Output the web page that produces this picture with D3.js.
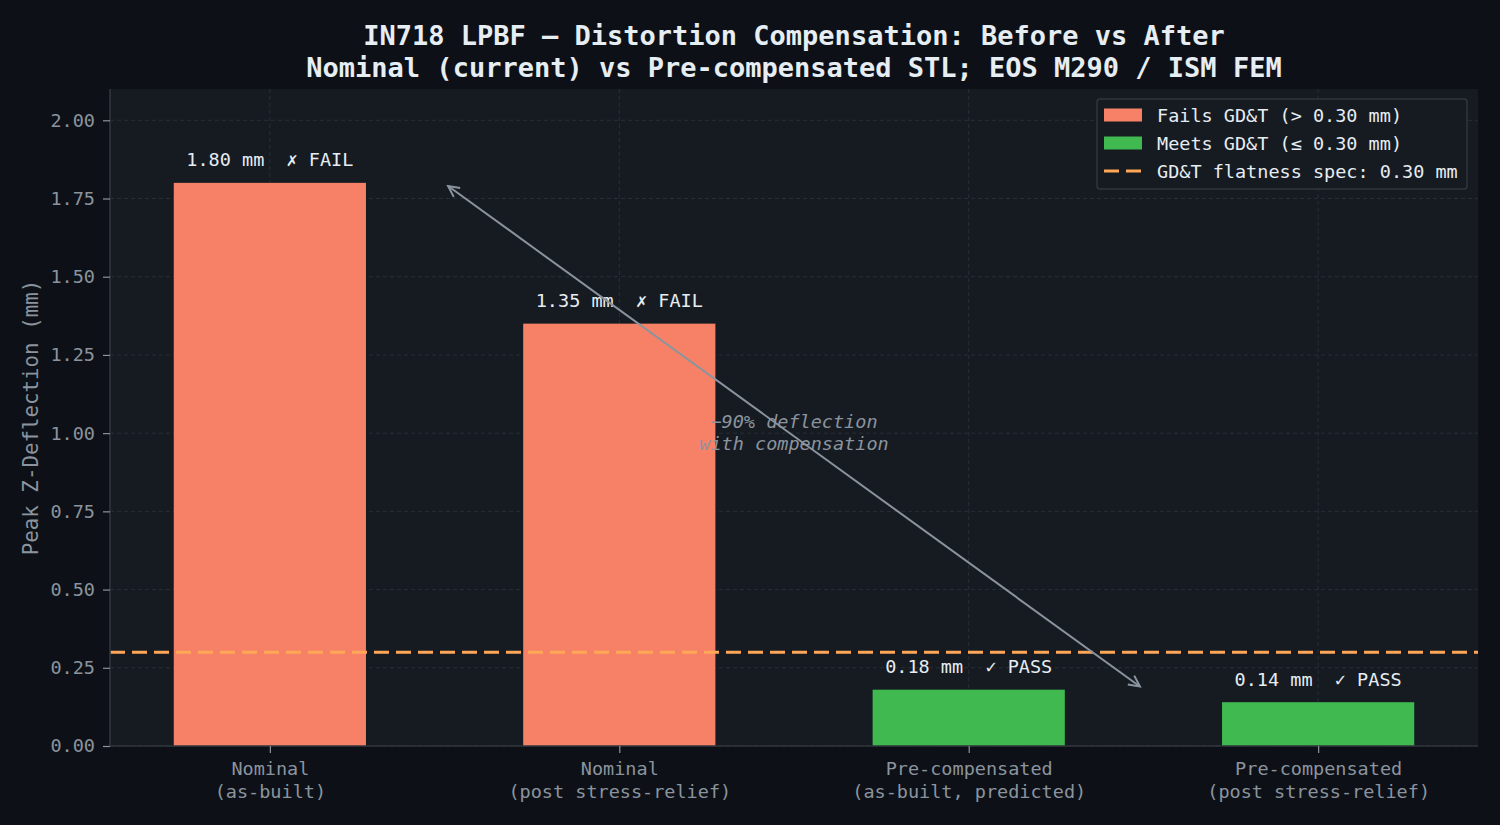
<!DOCTYPE html>
<html>
<head>
<meta charset="utf-8">
<script src="https://cdn.jsdelivr.net/npm/d3@7"></script>
<style>
  html, body { margin: 0; padding: 0; background: #0d1117; }
  svg { display: block; }
  text { font-family: "DejaVu Sans Mono", monospace; white-space: pre; }
</style>
</head>
<body>
<svg id="chart" width="1500" height="825"></svg>
<script>
// ---- data ----
const categories = [
  ["Nominal", "(as-built)"],
  ["Nominal", "(post stress-relief)"],
  ["Pre-compensated", "(as-built, predicted)"],
  ["Pre-compensated", "(post stress-relief)"]
];
const deflections = [1.80, 1.35, 0.18, 0.14];
const barLabels = ["1.80 mm  \u2717 FAIL", "1.35 mm  \u2717 FAIL", "0.18 mm  \u2713 PASS", "0.14 mm  \u2713 PASS"];
const specLimit = 0.30;
const yTicks = [0, 0.25, 0.5, 0.75, 1.0, 1.25, 1.5, 1.75, 2.0];
const yMax = 2.1;
const arrowFrom = [2.49, 0.19];
const arrowTo = [0.51, 1.79];
const annotationPos = [1.5, 1.0];
const annotationLines = ["\u221290% deflection", "with compensation"];
const titleLines = [
  "IN718 LPBF \u2014 Distortion Compensation: Before vs After",
  "Nominal (current) vs Pre-compensated STL; EOS M290 / ISM FEM"
];
const yLabel = "Peak Z-Deflection (mm)";
const legendItems = [
  { type: "rect", color: "#f78166", label: "Fails GD&T (> 0.30 mm)" },
  { type: "rect", color: "#3fb950", label: "Meets GD&T (\u2264 0.30 mm)" },
  { type: "line", color: "#ffa657", label: "GD&T flatness spec: 0.30 mm" }
];

// ---- layout ----
const svg = d3.select("#chart");
const W = 1500, H = 825;
const m = { left: 110, right: 1478, top: 89, bottom: 746 };
const textCol = "#e6edf3", mutedCol = "#8b949e", gridCol = "#2d333b", spineCol = "#30363d";

svg.append("rect").attr("width", W).attr("height", H).attr("fill", "#0d1117");
svg.append("rect").attr("x", m.left).attr("y", m.top)
  .attr("width", m.right - m.left).attr("height", m.bottom - m.top).attr("fill", "#161b22");

const x = d3.scaleLinear().domain([-0.4575, 3.4575]).range([m.left, m.right]);
const y = d3.scaleLinear().domain([0, yMax]).range([m.bottom, m.top]);
const barW = x(0.55) - x(0);

// grid
const g = svg.append("g");
g.selectAll(".hg").data(yTicks).join("line")
  .attr("x1", m.left).attr("x2", m.right)
  .attr("y1", d => y(d)).attr("y2", d => y(d))
  .attr("stroke", gridCol).attr("stroke-width", 0.8).attr("stroke-dasharray", "4,3");
g.selectAll(".vg").data(categories.map((c, i) => i)).join("line")
  .attr("x1", d => x(d)).attr("x2", d => x(d))
  .attr("y1", m.top).attr("y2", m.bottom)
  .attr("stroke", gridCol).attr("stroke-width", 0.8).attr("stroke-dasharray", "4,3");

// bars
svg.selectAll(".bar").data(deflections).join("rect")
  .attr("x", (d, i) => x(i) - barW / 2)
  .attr("width", barW)
  .attr("y", d => y(d))
  .attr("height", d => y(0) - y(d))
  .attr("fill", d => d > specLimit ? "#f78166" : "#3fb950");

// bar labels
svg.selectAll(".bl").data(deflections).join("text")
  .attr("x", (d, i) => x(i))
  .attr("y", d => y(d) - 16.5)
  .attr("text-anchor", "middle")
  .attr("xml:space", "preserve")
  .attr("font-size", 18.5)
  .attr("fill", textCol)
  .text((d, i) => barLabels[i]);

// spec line
svg.append("line")
  .attr("x1", m.left).attr("x2", m.right)
  .attr("y1", y(specLimit)).attr("y2", y(specLimit))
  .attr("stroke", "#ffa657").attr("stroke-width", 3)
  .attr("stroke-dasharray", "15,7");

// spines
svg.append("line").attr("x1", m.left).attr("x2", m.left).attr("y1", m.top).attr("y2", m.bottom)
  .attr("stroke", spineCol).attr("stroke-width", 1.6);
svg.append("line").attr("x1", m.left).attr("x2", m.right).attr("y1", m.bottom).attr("y2", m.bottom)
  .attr("stroke", spineCol).attr("stroke-width", 1.6);

// y axis
const yAxis = d3.axisLeft(y).tickValues(yTicks).tickFormat(d3.format(".2f")).tickSize(7).tickPadding(8);
const ya = svg.append("g").attr("transform", `translate(${m.left},0)`).call(yAxis);
ya.select(".domain").remove();
ya.selectAll(".tick line").attr("stroke", mutedCol).attr("stroke-width", 1.2);
ya.selectAll(".tick text").attr("fill", mutedCol).attr("font-size", 18.5)
  .attr("font-family", "DejaVu Sans Mono, monospace");

// x axis
const xAxis = d3.axisBottom(x).tickValues(categories.map((c, i) => i)).tickSize(7).tickFormat("");
const xa = svg.append("g").attr("transform", `translate(0,${m.bottom})`).call(xAxis);
xa.select(".domain").remove();
xa.selectAll(".tick line").attr("stroke", mutedCol).attr("stroke-width", 1.2);
xa.selectAll(".tick").each(function(d) {
  const t = d3.select(this).append("text")
    .attr("text-anchor", "middle").attr("fill", mutedCol).attr("font-size", 18.5)
    .attr("font-family", "DejaVu Sans Mono, monospace");
  categories[d].forEach((line, k) => {
    t.append("tspan").attr("x", 0).attr("y", 29 + k * 23).text(line);
  });
});

// y label
svg.append("text")
  .attr("transform", `translate(38,${(m.top + m.bottom) / 2}) rotate(-90)`)
  .attr("text-anchor", "middle")
  .attr("font-size", 20.8)
  .attr("fill", mutedCol)
  .text(yLabel);

// title
titleLines.forEach((t, i) => {
  svg.append("text")
    .attr("x", (m.left + m.right) / 2)
    .attr("y", 45 + i * 32)
    .attr("text-anchor", "middle")
    .attr("font-size", 27)
    .attr("font-weight", "bold")
    .attr("fill", textCol)
    .text(t);
});

// arrow
const defs = svg.append("defs");
defs.append("marker").attr("id", "ah").attr("viewBox", "-12 -7 14 14")
  .attr("refX", 0).attr("refY", 0).attr("markerWidth", 14).attr("markerHeight", 14)
  .attr("markerUnits", "userSpaceOnUse").attr("orient", "auto-start-reverse")
  .append("path").attr("d", "M-11,-5.5 L0,0 L-11,5.5")
  .attr("fill", "none").attr("stroke", mutedCol).attr("stroke-width", 2);
svg.append("line")
  .attr("x1", x(arrowFrom[0])).attr("y1", y(arrowFrom[1]))
  .attr("x2", x(arrowTo[0])).attr("y2", y(arrowTo[1]))
  .attr("stroke", mutedCol).attr("stroke-width", 2)
  .attr("marker-start", "url(#ah)").attr("marker-end", "url(#ah)");

// annotation text
const at = svg.append("text")
  .attr("text-anchor", "middle").attr("font-size", 18.5).attr("font-style", "italic")
  .attr("fill", mutedCol);
annotationLines.forEach((l, k) => {
  at.append("tspan").attr("x", x(annotationPos[0])).attr("y", y(annotationPos[1]) - 5 + k * 22).text(l);
});

// legend
const lg = svg.append("g").attr("transform", "translate(1097,99)");
lg.append("rect").attr("width", 370).attr("height", 90).attr("rx", 3)
  .attr("fill", "#161b22").attr("stroke", spineCol).attr("stroke-width", 1.5);
legendItems.forEach((it, i) => {
  const cy = 16 + i * 28;
  if (it.type === "rect") {
    lg.append("rect").attr("x", 7).attr("y", cy - 6.5).attr("width", 38).attr("height", 13).attr("fill", it.color);
  } else {
    lg.append("line").attr("x1", 7).attr("x2", 45).attr("y1", cy).attr("y2", cy)
      .attr("stroke", it.color).attr("stroke-width", 3).attr("stroke-dasharray", "15,7");
  }
  lg.append("text").attr("x", 60).attr("y", cy + 6.5).attr("font-size", 18.5)
    .attr("fill", textCol).text(it.label);
});
</script>
</body>
</html>
